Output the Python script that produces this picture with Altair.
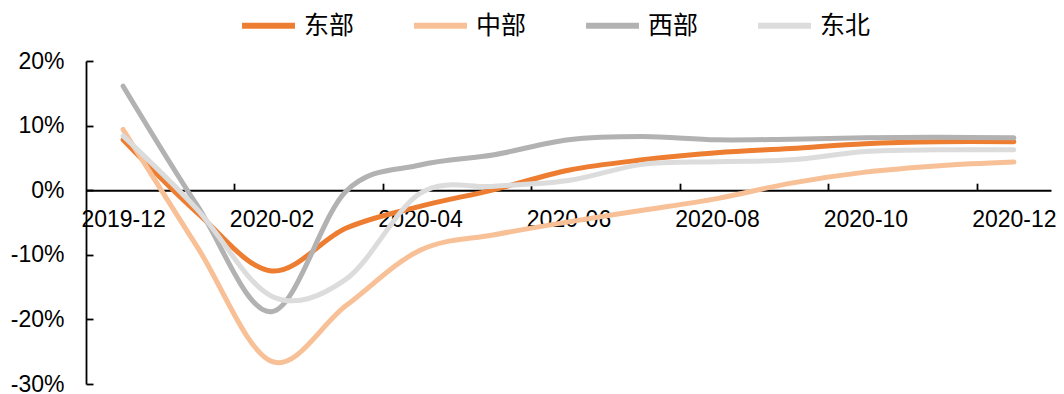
import altair as alt
import pandas as pd

months = ["2019-12", "2020-01", "2020-02", "2020-03", "2020-04", "2020-05", "2020-06",
          "2020-07", "2020-08", "2020-09", "2020-10", "2020-11", "2020-12"]
regions = ["东部", "中部", "西部", "东北"]
colors = ["#ED7D31", "#F8C096", "#B2B2B2", "#DCDCDC"]

east = [7.8, -3.5, -12.5, -5.9, -2.5, 0.1, 3.1, 4.7, 5.8, 6.45, 7.2, 7.5, 7.5]
central = [9.4, -8.8, -26.5, -17.9, -9.3, -6.9, -4.9, -3.1, -1.3, 1.1, 2.8, 3.8, 4.35]
west = [16.1, -2.4, -18.8, -0.2, 3.9, 5.5, 7.8, 8.3, 7.8, 7.9, 8.1, 8.2, 8.1]
northeast = [8.4, -3.0, -16.4, -13.8, -0.5, 0.6, 1.5, 4.0, 4.4, 4.7, 6.0, 6.25, 6.25]

y_ticks = [-30, -20, -10, 0, 10, 20]
label_idx = [0, 2, 4, 6, 8, 10, 12]
tick_pos = [1.5, 3.5, 5.5, 7.5, 9.5, 11.5]

rows = []
for name, vals in zip(regions, [east, central, west, northeast]):
    for i, v in enumerate(vals):
        rows.append({"idx": i, "month": months[i], "region": name, "value": v})
df = pd.DataFrame(rows)

W, H = 965, 323
zero_from_top = H * 20 / 50

label_expr = "[" + ",".join("'%s'" % m for m in months) + "][datum.value]"
xscale = alt.Scale(domain=[-0.5, 12.5], nice=False, zero=False)
yscale = alt.Scale(domain=[-30, 20], nice=False, zero=False)

y_axis = alt.Axis(
    values=y_ticks, labelExpr="datum.value + '%'", grid=False, title=None,
    domainColor="#000000", domainWidth=1.8, tickColor="#000000", tickWidth=1.8,
    tickSize={"expr": "-7"}, labelPadding=29,
    labelFont="Liberation Sans", labelFontSize=23, labelColor="#000000")

base = alt.Chart(df)

lines = base.mark_line(interpolate="cardinal", strokeWidth=5, strokeCap="round").encode(
    x=alt.X("idx:Q", scale=xscale, axis=alt.Axis(
        orient="bottom", offset=-(H - zero_from_top), values=label_idx, labelExpr=label_expr,
        ticks=False, domain=False, grid=False, title=None,
        labelFont="Liberation Sans", labelFontSize=23, labelColor="#000000",
        labelPadding=18, labelFlush=False, labelOverlap=False)),
    y=alt.Y("value:Q", scale=yscale, axis=y_axis),
    color=alt.Color("region:N", scale=alt.Scale(domain=regions, range=colors),
                    sort=regions,
                    legend=alt.Legend(orient="none", legendX=153, legendY=-65,
                                      direction="horizontal", columns=4, title=None,
                                      symbolType="stroke", symbolSize=2800,
                                      symbolStrokeWidth=6, labelOffset=6,
                                      columnPadding=47,
                                      labelFont="Noto Sans CJK SC", labelFontSize=25,
                                      labelColor="#000000")),
    order=alt.Order("idx:Q"),
)

zero_axis = base.mark_line(opacity=0).encode(
    x=alt.X("idx:Q", scale=xscale, axis=alt.Axis(
        orient="top", offset=-zero_from_top, values=tick_pos, labels=False,
        tickSize=7, tickColor="#000000", tickWidth=1.8,
        domainColor="#000000", domainWidth=2, grid=False, title=None)),
    y=alt.Y("value:Q", scale=yscale, axis=y_axis),
    detail="region:N",
)

chart = alt.layer(lines, zero_axis).resolve_axis(x="independent").properties(
    width=W, height=H,
    autosize=alt.AutoSizeParams(type="none"),
    padding={"left": 78, "top": 53, "right": 5, "bottom": 10},
    background="white",
).configure_view(stroke=None)

chart.save("out.html", embed_options={"renderer": "svg", "actions": False})
